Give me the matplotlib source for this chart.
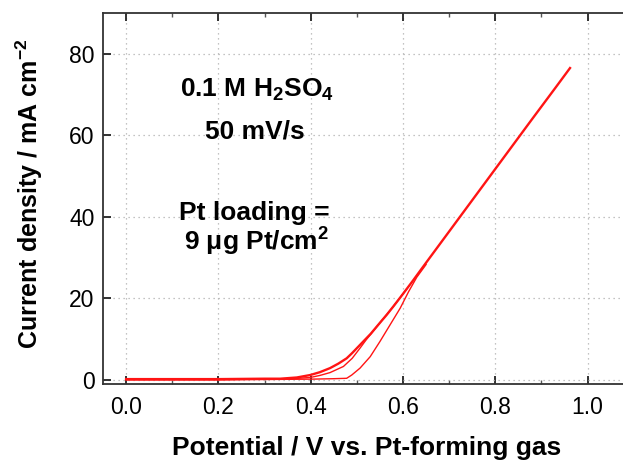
"""
Polarisation curve of a Pt catalyst layer (0.1 M H2SO4, 50 mV/s)
"""

###############
# - IMPORTS - #
###############

import matplotlib

matplotlib.use("Agg")
import matplotlib.pyplot as plt
from matplotlib.ticker import MultipleLocator


##############
# - DATA - #
##############

# Upper trace (runs up to the vertex)
potential_a = [0.0, 0.1, 0.2, 0.3, 0.334, 0.37, 0.399, 0.42, 0.442, 0.46, 0.478,
               0.49, 0.507, 0.53, 0.55, 0.565, 0.579, 0.594, 0.608, 0.62, 0.64,
               0.70, 0.76, 0.82, 0.88, 0.93, 0.962]
current_a = [0.2, 0.2, 0.2, 0.3, 0.3, 0.6, 1.2, 1.9, 2.9, 4.0, 5.3,
             6.6, 8.6, 11.3, 14.0, 16.0, 18.0, 20.2, 22.3, 24.1, 27.2,
             36.4, 45.6, 54.8, 64.0, 71.6, 76.5]

# Middle trace
potential_b = [0.0, 0.2, 0.3, 0.36, 0.399, 0.42, 0.442, 0.471, 0.49, 0.507, 0.52,
               0.535, 0.55, 0.579, 0.608]
current_b = [0.1, 0.1, 0.2, 0.3, 0.6, 1.1, 1.8, 3.3, 5.3, 7.8, 9.8,
             11.9, 14.0, 18.0, 22.3]

# Lower trace
potential_c = [0.0, 0.2, 0.30, 0.406, 0.45, 0.478, 0.489, 0.507, 0.529, 0.55,
               0.572, 0.594, 0.612, 0.63, 0.65]
current_c = [0.0, 0.0, 0.1, 0.2, 0.3, 0.4, 1.2, 2.9, 5.7, 9.4,
             13.5, 17.6, 21.6, 25.2, 28.3]

x_ticks = [0.0, 0.2, 0.4, 0.6, 0.8, 1.0]
y_ticks = [0, 20, 40, 60, 80]


##############
# - FIGURE - #
##############

plt.rcParams["font.family"] = ["Liberation Sans", "DejaVu Sans"]
plt.rcParams["mathtext.fontset"] = "custom"
plt.rcParams["mathtext.rm"] = "Liberation Sans"
plt.rcParams["mathtext.bf"] = "Liberation Sans:bold"
plt.rcParams["mathtext.it"] = "Liberation Sans:italic"

fig = plt.figure(figsize=(6.23, 4.63), dpi=100)
# Axes box runs past the right edge of the picture, like the original crop
ax = fig.add_axes([103 / 623, 79 / 463, 530.7 / 623, 371 / 463])

# Plotting the traces
ax.plot(potential_c, current_c, color="#ff1414", lw=1.0)
ax.plot(potential_b, current_b, color="#ff1414", lw=1.0)
ax.plot(potential_a, current_a, color="#ff1414", lw=1.7)

# Formating the axes
ax.set_xlim(-0.05, 1.1)
ax.set_ylim(-1, 90)
ax.set_xticks(x_ticks)
ax.set_xticklabels([f"{t:.1f}" for t in x_ticks])
ax.set_yticks(y_ticks)
ax.xaxis.set_minor_locator(MultipleLocator(0.1))
ax.tick_params(axis="x", which="major", direction="in", length=6, width=1.3,
               top=True, labelsize=16.5, pad=9, color="#222222")
ax.tick_params(axis="x", which="minor", direction="in", length=3, width=1.0,
               top=True, color="#555555")
ax.tick_params(axis="y", which="major", direction="in", length=6, width=1.3,
               labelsize=16.5, pad=6, color="#222222")

for side in ["left", "bottom", "top", "right"]:
    ax.spines[side].set_linewidth(1.3)
    ax.spines[side].set_color("#333333")

ax.grid(True, which="major", linestyle=(0, (1, 3)), color="#b0b0b0", lw=0.9)

ax.set_xlabel("Potential / V vs. Pt-forming gas", fontsize=19, fontweight="bold")
ax.set_ylabel(r"Current density / mA cm$^{\mathbf{-2}}$", fontsize=18,
              fontweight="bold")
ax.xaxis.set_label_coords(0.4965, -0.14)
ax.yaxis.set_label_coords(-0.11, 0.512)

# Annotations
ax.text(0.284, 69.5, r"0.1 M H$_{\mathbf{2}}$SO$_{\mathbf{4}}$", fontsize=19,
        fontweight="bold", ha="center", va="baseline")
ax.text(0.280, 59.2, "50 mV/s", fontsize=19, fontweight="bold",
        ha="center", va="baseline")
ax.text(0.277, 39.2, "Pt loading =", fontsize=19, fontweight="bold",
        ha="center", va="baseline")
ax.text(0.283, 31.8, r"9 $\mathbf{\mu}$g Pt/cm$^{\mathbf{2}}$", fontsize=19,
        fontweight="bold", ha="center", va="baseline")

fig.savefig("out.png", dpi=100)
